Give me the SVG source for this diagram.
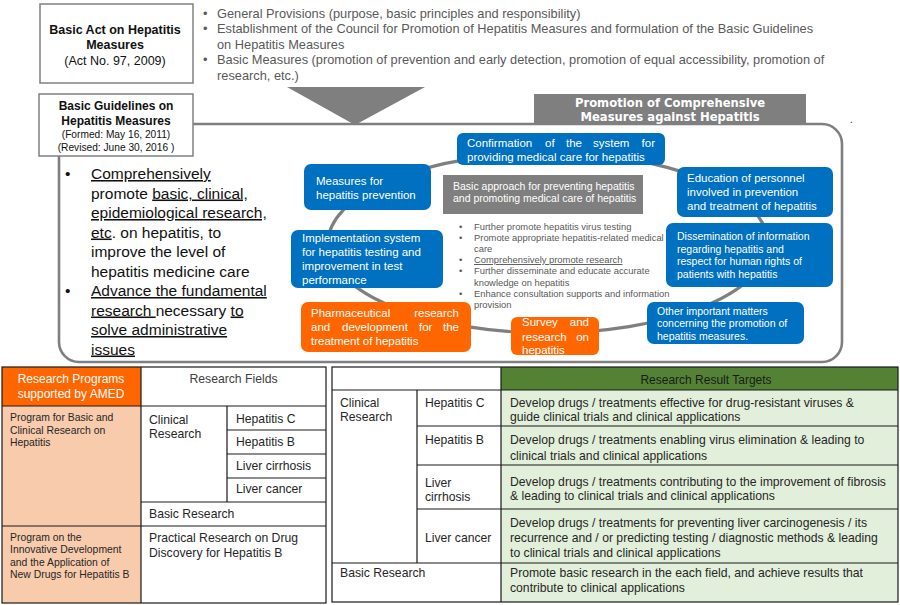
<svg xmlns="http://www.w3.org/2000/svg" width="900" height="605" viewBox="0 0 900 605">
<style>
text{font-family:"Liberation Sans",Arial,sans-serif;}
text.dv{font-family:"DejaVu Sans",Verdana,sans-serif;font-weight:bold;font-size:11.6px;fill:#fff}
.b{font-weight:bold}
.tb{fill:#595959;font-size:12.8px}
.lb{fill:#111;font-size:15.5px}
.u{text-decoration:underline}
.blue{fill:#0070C0}
.org{fill:#FF6600}
.nt{fill:#fff;font-size:11.5px}
.ns{fill:#fff;font-size:10.5px}
.gl{fill:#595959;font-size:9.4px}
.tl{fill:#262626;font-size:12.2px}
.ts{fill:#262626;font-size:10.4px}
.ln{stroke:#1a1a1a;stroke-width:1.2;fill:none}
.gray{fill:#7f7f7f}
.box{fill:#fff;stroke:#808080;stroke-width:1.5}
</style>
<rect width="900" height="605" fill="#fff"/>

<g id="basic-act">
<rect class="box" x="40" y="4" width="153" height="79"/>
<text x="115" y="34" text-anchor="middle" class="b" font-size="12.5" fill="#111">Basic Act on Hepatitis</text>
<text x="115" y="49" text-anchor="middle" class="b" font-size="12.5" fill="#111">Measures</text>
<text x="115" y="65" text-anchor="middle" font-size="12.5" fill="#111">(Act No. 97, 2009)</text>
</g>

<g id="act-contents" class="tb" xml:space="preserve">
<text x="203" y="17.5">•</text><text x="217" y="17.5">General Provisions (purpose, basic principles and responsibility)</text>
<text x="203" y="32.5">•</text><text x="217" y="32.5">Establishment of the Council for Promotion of Hepatitis Measures and formulation of  the Basic Guidelines</text>
<text x="217" y="48.5">on Hepatitis Measures</text>
<text x="203" y="63.5">•</text><text x="217" y="63.5">Basic Measures (promotion of prevention and early detection,  promotion of equal accessibility, promotion of</text>
<text x="217" y="79.5">research, etc.)</text>
</g>

<g id="arrow">
<polygon class="gray" points="287,87 425,87 355,125"/>
</g>

<g id="connectors">
<path d="M193,124 H822 A20,20 0 0 1 842,144 V342 A20,20 0 0 1 822,362 H79 A20,20 0 0 1 59,342 V156" fill="none" stroke="#7f7f7f" stroke-width="2.6"/>
<ellipse cx="548" cy="243" rx="220" ry="90" fill="none" stroke="#7f7f7f" stroke-width="3.2"/>
</g>

<g id="guidelines">
<rect class="box" x="39" y="94" width="154" height="62"/>
<text x="116" y="110" text-anchor="middle" class="b" font-size="12" fill="#111">Basic Guidelines on</text>
<text x="116" y="125" text-anchor="middle" class="b" font-size="12" fill="#111">Hepatitis Measures</text>
<text x="116" y="138" text-anchor="middle" font-size="10.2" fill="#111">(Formed: May 16, 2011)</text>
<text x="116" y="151" text-anchor="middle" font-size="10.2" fill="#111">(Revised: June 30, 2016 )</text>
</g>

<g id="promotion">
<rect class="gray" x="534" y="94" width="272" height="29"/>
<text class="dv" x="670" y="106.5" text-anchor="middle">Promotion of Comprehensive</text>
<text class="dv" x="670" y="120.5" text-anchor="middle">Measures against Hepatitis</text>
<text x="850" y="123" font-size="10" fill="#333">.</text>
</g>

<g id="guideline-points" class="lb">
<text x="65" y="179">•</text>
<text x="91" y="179"><tspan class="u">Comprehensively</tspan></text>
<text x="91" y="198.5">promote <tspan class="u">basic, clinical,</tspan></text>
<text x="91" y="218"><tspan class="u">epidemiological research,</tspan></text>
<text x="91" y="237.5"><tspan class="u">etc</tspan>. on hepatitis, to</text>
<text x="91" y="257">improve the level of</text>
<text x="91" y="276.5">hepatitis medicine care</text>
<text x="65" y="296">•</text>
<text x="91" y="296"><tspan class="u">Advance the fundamental</tspan></text>
<text x="91" y="315.5"><tspan class="u">research </tspan>necessary <tspan class="u">to</tspan></text>
<text x="91" y="335"><tspan class="u">solve administrative</tspan></text>
<text x="91" y="354.5"><tspan class="u">issues</tspan></text>
</g>

<g id="confirmation">
<rect class="blue" x="457" y="133" width="208" height="32" rx="6"/>
<text class="nt" y="147"><tspan x="467">Confirmation</tspan><tspan x="545">of</tspan><tspan x="566">the</tspan><tspan x="593">system</tspan></text>
<text class="nt" x="655" y="147" text-anchor="end">for</text>
<text class="nt" x="467" y="161">providing medical care for hepatitis</text>
</g>

<g id="prevention">
<rect class="blue" x="304" y="164" width="127" height="46" rx="7"/>
<text class="nt" x="316" y="185">Measures for</text>
<text class="nt" x="316" y="199">hepatitis prevention</text>
</g>

<g id="testing">
<rect class="blue" x="291" y="230" width="152" height="58" rx="7"/>
<text class="nt" x="302" y="242">Implementation system</text>
<text class="nt" x="302" y="256">for hepatitis testing and</text>
<text class="nt" x="302" y="270">improvement in test</text>
<text class="nt" x="302" y="284">performance</text>
</g>

<g id="pharma">
<rect class="org" x="301" y="302" width="170" height="50" rx="7"/>
<text class="nt" x="311" y="317">Pharmaceutical</text>
<text class="nt" x="459" y="317" text-anchor="end">research</text>
<text class="nt" y="331"><tspan x="311">and</tspan><tspan x="342">development</tspan><tspan x="419">for</tspan></text>
<text class="nt" x="459" y="331" text-anchor="end">the</text>
<text class="nt" x="311" y="345">treatment of hepatitis</text>
</g>

<g id="survey">
<rect class="org" x="511" y="317" width="88" height="38" rx="6"/>
<text class="nt" x="522" y="326">Survey</text>
<text class="nt" x="589" y="326" text-anchor="end">and</text>
<text class="nt" x="522" y="341">research</text>
<text class="nt" x="589" y="341" text-anchor="end">on</text>
<text class="nt" x="522" y="354">hepatitis</text>
</g>

<g id="education">
<rect class="blue" x="677" y="167" width="156" height="50" rx="7"/>
<text class="nt" x="687" y="182">Education of personnel</text>
<text class="nt" x="687" y="196">involved in prevention</text>
<text class="nt" x="687" y="210">and treatment of hepatitis</text>
</g>

<g id="dissemination">
<rect class="blue" x="666" y="223" width="167" height="64" rx="7"/>
<text class="ns" x="677" y="240">Dissemination of information</text>
<text class="ns" x="677" y="253">regarding hepatitis and</text>
<text class="ns" x="677" y="265">respect for human rights of</text>
<text class="ns" x="677" y="278">patients with hepatitis</text>
</g>

<g id="other">
<rect class="blue" x="647" y="302" width="157" height="42" rx="7"/>
<text class="ns" x="657" y="315">Other important matters</text>
<text class="ns" x="657" y="327">concerning the promotion of</text>
<text class="ns" x="657" y="340">hepatitis measures.</text>
</g>

<g id="basic-approach">
<rect class="gray" x="443" y="175" width="200" height="39"/>
<text x="453" y="190" font-size="10.5" fill="#fff">Basic approach for preventing hepatitis</text>
<text x="453" y="202" font-size="10.5" fill="#fff">and promoting medical care of hepatitis</text>
<g class="gl">
<text x="459" y="230">•</text><text x="474" y="230">Further promote hepatitis virus testing</text>
<text x="459" y="241">•</text><text x="474" y="241">Promote appropriate hepatitis-related medical</text>
<text x="474" y="252">care</text>
<text x="459" y="263">•</text><text x="474" y="263" class="u">Comprehensively promote research</text>
<text x="459" y="274">•</text><text x="474" y="274">Further disseminate and educate accurate</text>
<text x="474" y="286">knowledge on hepatitis</text>
<text x="459" y="297">•</text><text x="474" y="297">Enhance consultation supports and information</text>
<text x="474" y="308">provision</text>
</g>
</g>

<g id="programs-table">
<rect x="2" y="367" width="139" height="39" fill="#FF6600"/>
<rect x="2" y="406" width="139" height="197" fill="#F8CBAD"/>
<rect class="ln" x="2" y="367" width="324" height="236"/>
<path class="ln" d="M141,367 V603 M2,406 H326 M227,406 V502 M227,430 H326 M227,454 H326 M227,478 H326 M141,502 H326 M2,526 H326"/>
<text x="71" y="383" text-anchor="middle" font-size="12" fill="#fff">Research Programs</text>
<text x="71" y="398" text-anchor="middle" font-size="12" fill="#fff">supported by AMED</text>
<text x="233.5" y="383" text-anchor="middle" font-size="12.2" fill="#404040">Research Fields</text>
<text class="ts" x="10" y="421">Program for Basic and</text>
<text class="ts" x="10" y="434">Clinical Research on</text>
<text class="ts" x="10" y="446">Hepatitis</text>
<text class="tl" x="149" y="424">Clinical</text>
<text class="tl" x="149" y="438">Research</text>
<text class="tl" x="236" y="423">Hepatitis C</text>
<text class="tl" x="236" y="446">Hepatitis B</text>
<text class="tl" x="236" y="470">Liver cirrhosis</text>
<text class="tl" x="236" y="493">Liver cancer</text>
<text class="tl" x="149" y="518">Basic Research</text>
<text class="ts" x="10" y="541">Program on the</text>
<text class="ts" x="10" y="553">Innovative Development</text>
<text class="ts" x="10" y="566">and the Application of</text>
<text class="ts" x="10" y="578">New Drugs for Hepatitis B</text>
<text class="tl" x="149" y="542">Practical Research on Drug</text>
<text class="tl" x="149" y="557">Discovery for Hepatitis B</text>
</g>

<g id="targets-table" xml:space="preserve">
<rect x="501" y="367" width="397" height="23" fill="#548235"/>
<rect x="501" y="390" width="397" height="212" fill="#E2EFDA"/>
<rect class="ln" x="332" y="367" width="566" height="235"/>
<path class="ln" d="M501,367 V602 M332,390 H898 M417,390 V563 M417,426 H898 M417,465 H898 M417,509 H898 M332,563 H898"/>
<text x="706" y="384" text-anchor="middle" font-size="12" fill="#1a1a1a">Research Result Targets</text>
<text class="tl" x="340" y="407">Clinical</text>
<text class="tl" x="340" y="421">Research</text>
<text class="tl" x="425" y="407">Hepatitis C</text>
<text class="tl" x="425" y="444">Hepatitis B</text>
<text class="tl" x="425" y="487">Liver</text>
<text class="tl" x="425" y="501">cirrhosis</text>
<text class="tl" x="425" y="542">Liver cancer</text>
<text class="tl" x="340" y="577">Basic Research</text>
<text class="tl" x="510" y="407">Develop drugs / treatments effective for drug-resistant viruses &amp;</text>
<text class="tl" x="510" y="421">guide clinical trials and clinical applications</text>
<text class="tl" x="510" y="444">Develop drugs / treatments enabling virus elimination &amp; leading to</text>
<text class="tl" x="510" y="460">clinical trials and clinical applications</text>
<text class="tl" x="510" y="486">Develop drugs / treatments contributing to the improvement of fibrosis</text>
<text class="tl" x="510" y="500">&amp; leading to clinical trials and clinical applications</text>
<text class="tl" x="510" y="527">Develop drugs / treatments for preventing liver carcinogenesis / its</text>
<text class="tl" x="510" y="542">recurrence and / or predicting  testing / diagnostic methods &amp; leading</text>
<text class="tl" x="510" y="557">to clinical trials and clinical applications</text>
<text class="tl" x="510" y="577">Promote basic research in the each field, and achieve results that</text>
<text class="tl" x="510" y="592">contribute to clinical applications</text>
</g>
</svg>
